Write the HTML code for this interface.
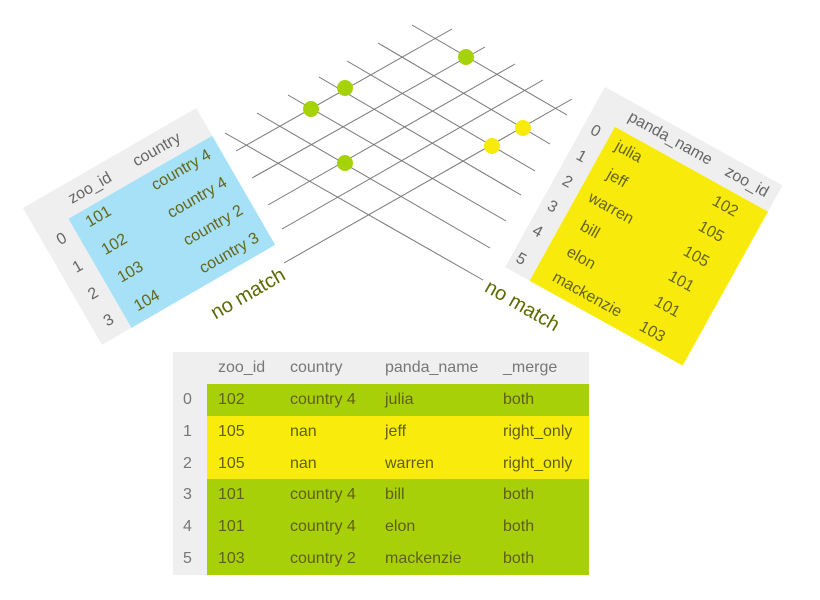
<!DOCTYPE html>
<html><head><meta charset="utf-8"><style>
body{margin:0;width:820px;height:600px;background:#fff;position:relative;overflow:hidden;font-family:"Liberation Sans",sans-serif}
.tbl{position:absolute;transform-origin:0 0}
.g{background:#efefef;position:absolute}
.t{position:absolute;transform:translate(-50%,-50%);white-space:nowrap;font-size:16px;color:#66661a}
.h{color:#666}
.nm{position:absolute;font-size:20px;color:#5c6a00;transform-origin:0 0;white-space:nowrap}
#bt{position:absolute;left:173px;top:352px;width:416px;height:223px;background:#efefef}
.row{position:absolute;left:34px;width:382px;height:32px}
.c{position:absolute;font-size:16px;color:#5f5f12;top:50%;transform:translateY(-50%);white-space:nowrap}
</style></head><body>
<svg width="820" height="600" style="position:absolute;left:0;top:0">
<g stroke="#777" stroke-width="1">
<line x1="236" y1="151" x2="452" y2="29"/><line x1="252" y1="178" x2="485" y2="47"/><line x1="268" y1="205" x2="515" y2="64"/><line x1="282" y1="229" x2="543" y2="80"/><line x1="284" y1="263" x2="572" y2="99"/>
<line x1="412" y1="25" x2="567" y2="115"/><line x1="378" y1="43" x2="550" y2="144"/><line x1="347" y1="61" x2="535" y2="171"/><line x1="319" y1="77" x2="521" y2="195"/><line x1="288" y1="95" x2="506" y2="221"/><line x1="257" y1="113" x2="490" y2="248"/><line x1="225" y1="133" x2="483" y2="280"/>
</g>
<circle cx="466" cy="57" r="8" fill="#a6d20a"/>
<circle cx="345" cy="88" r="8" fill="#a6d20a"/>
<circle cx="311" cy="109" r="8" fill="#a6d20a"/>
<circle cx="345" cy="163" r="8" fill="#a6d20a"/>
<circle cx="523" cy="128" r="8" fill="#f8ea0a"/>
<circle cx="492" cy="146" r="8" fill="#f8ea0a"/>
</svg>

<div class="tbl" style="left:23px;top:208px;width:200px;height:158px;transform:rotate(-30deg)">
<div class="g" style="left:0;top:0;width:200px;height:32px"></div>
<div class="g" style="left:0;top:0;width:34px;height:158px"></div>
<div style="position:absolute;left:34px;top:32px;width:166px;height:126px;background:#a6e1f8"></div>
<div class="t h" style="left:68px;top:17px">zoo_id</div>
<div class="t h" style="left:145px;top:17px">country</div>
<div class="t h" style="left:18px;top:47px">0</div><div class="t h" style="left:18px;top:79px">1</div><div class="t h" style="left:18px;top:110px">2</div><div class="t h" style="left:18px;top:141px">3</div>
<div class="t" style="left:61px;top:46px">101</div><div class="t" style="left:61px;top:78px">102</div><div class="t" style="left:61px;top:110px">103</div><div class="t" style="left:61px;top:143px">104</div>
<div class="t" style="left:156px;top:47px">country 4</div><div class="t" style="left:156px;top:79px">country 4</div><div class="t" style="left:156px;top:111px">country 2</div><div class="t" style="left:156px;top:143px">country 3</div>
</div>

<div class="tbl" style="left:605px;top:87px;width:203px;height:206px;transform:rotate(29deg)">
<div class="g" style="left:0;top:0;width:203px;height:30px"></div>
<div class="g" style="left:0;top:0;width:28px;height:206px"></div>
<div style="position:absolute;left:28px;top:30px;width:175px;height:176px;background:#f8ea0a"></div>
<div class="t h" style="left:82px;top:14px">panda_name</div>
<div class="t h" style="left:170px;top:15px">zoo_id</div>
<div class="t h" style="left:13px;top:44px">0</div><div class="t h" style="left:13px;top:73px">1</div><div class="t h" style="left:13px;top:102px">2</div><div class="t h" style="left:12px;top:131px">3</div><div class="t h" style="left:11px;top:160px">4</div><div class="t h" style="left:10px;top:192px">5</div>
<div class="t" style="left:52px;top:46px">julia</div><div class="t" style="left:55px;top:75px">jeff</div><div class="t" style="left:64px;top:104px">warren</div><div class="t" style="left:56px;top:133px">bill</div><div class="t" style="left:62px;top:162px">elon</div><div class="t" style="left:85px;top:191px">mackenzie</div>
<div class="t" style="left:163px;top:47px">102</div><div class="t" style="left:163px;top:76px">105</div><div class="t" style="left:162px;top:105px">105</div><div class="t" style="left:161px;top:134px">101</div><div class="t" style="left:161px;top:163px">101</div><div class="t" style="left:160px;top:192px">103</div>
</div>

<div class="nm" style="left:207px;top:305px;transform:rotate(-30deg)">no match</div>
<div class="nm" style="left:492px;top:276px;transform:rotate(30deg)">no match</div>

<div id="bt">
<div class="c" style="left:45px;top:16px;color:#777">zoo_id</div>
<div class="c" style="left:117px;top:16px;color:#777">country</div>
<div class="c" style="left:212px;top:16px;color:#777">panda_name</div>
<div class="c" style="left:330px;top:16px;color:#777">_merge</div>
<div id="rows"></div>
</div>
<script>
const ids=["102","105","105","101","101","103"];
const countries=["country 4","nan","nan","country 4","country 4","country 2"];
const names=["julia","jeff","warren","bill","elon","mackenzie"];
const merges=["both","right_only","right_only","both","both","both"];
const rows=document.getElementById('rows');
for(let i=0;i<ids.length;i++){
  const r=document.createElement('div');
  
  
  r.className='row';
  r.style.top=(32+i*31.8)+'px';
  r.style.background=merges[i]==='both'?'#a8d008':'#f9ec0c';
  const idx=document.createElement('div');
  idx.className='c';idx.style.left='-24px';idx.style.color='#777';idx.textContent=i;
  r.appendChild(idx);
  [[ids[i],11],[countries[i],83],[names[i],178],[merges[i],296]].forEach(([v,x])=>{
    const c=document.createElement('div');
    
    
    c.className='c';c.style.left=x+'px';c.textContent=v;r.appendChild(c);
  });
  rows.appendChild(r);
}
</script>
</body></html>
